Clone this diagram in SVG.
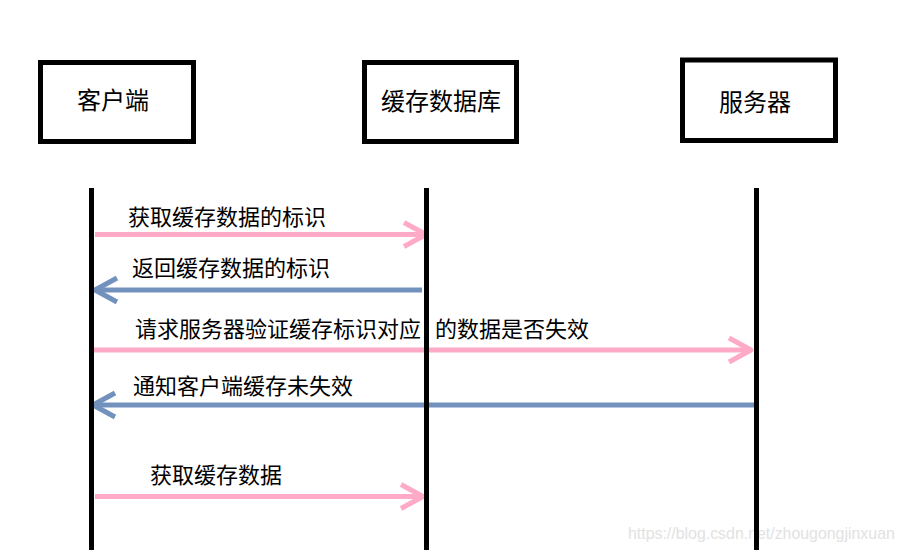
<svg xmlns="http://www.w3.org/2000/svg" width="903" height="550" viewBox="0 0 903 550">
<style>
.box{fill:#fff;stroke:#000;stroke-width:5}
.bt{font-family:"Noto Sans CJK SC","Noto Sans",sans-serif;font-size:24px;fill:#000}
.lt{font-family:"Noto Sans CJK SC","Noto Sans",sans-serif;font-size:22px;fill:#000}
.life{stroke:#000;stroke-width:5}
.pink{stroke:#ffabc8;stroke-width:5;fill:none}
.blue{stroke:#7292bd;stroke-width:5;fill:none}
.wm{font-family:"Liberation Sans",Arial,sans-serif;font-size:15.9px;fill:#e2e2e2}
</style>
<defs>
<marker id="ap" viewBox="-28 -16 32 32" markerWidth="32" markerHeight="32" refX="0" refY="0" orient="auto" markerUnits="userSpaceOnUse">
<path d="M-22,-12 L0,0 L-22,12" fill="none" stroke="#ffabc8" stroke-width="5" stroke-linejoin="round"/>
</marker>
<marker id="ab" viewBox="-28 -16 32 32" markerWidth="32" markerHeight="32" refX="0" refY="0" orient="auto" markerUnits="userSpaceOnUse">
<path d="M-22,-12 L0,0 L-22,12" fill="none" stroke="#7292bd" stroke-width="5" stroke-linejoin="round"/>
</marker>
</defs>
<rect width="903" height="550" fill="#fff"/>
<g id="client">
<rect class="box" x="40.5" y="62.5" width="153" height="79"/>
<text class="bt" x="77" y="109">客户端</text>
</g>
<g id="cache">
<rect class="box" x="364.5" y="62.5" width="152" height="79"/>
<text class="bt" x="381" y="109.5">缓存数据库</text>
</g>
<g id="server">
<rect class="box" x="682.5" y="60" width="153" height="80.5"/>
<text class="bt" x="719" y="110.5">服务器</text>
</g>
<text class="wm" x="628" y="538.5">https://blog.csdn.net/zhougongjinxuan</text>
<g id="connectors">
<line class="pink" x1="95" y1="234.5" x2="426" y2="234.5" marker-end="url(#ap)"/>
<line class="blue" x1="422" y1="290" x2="95" y2="290" marker-end="url(#ab)"/>
<line class="pink" x1="93" y1="350" x2="751" y2="350" marker-end="url(#ap)"/>
<line class="blue" x1="756" y1="405" x2="93" y2="405" marker-end="url(#ab)"/>
<line class="pink" x1="95" y1="496.5" x2="423" y2="496.5" marker-end="url(#ap)"/>
</g>
<g id="lifelines">
<line class="life" x1="91.5" y1="188" x2="91.5" y2="550"/>
<line class="life" x1="426.5" y1="188" x2="426.5" y2="550"/>
<line class="life" x1="756.5" y1="188" x2="756.5" y2="550"/>
</g>
<g id="labels">
<text class="lt" x="128" y="225">获取缓存数据的标识</text>
<text class="lt" x="132" y="276">返回缓存数据的标识</text>
<text class="lt" x="135" y="337">请求服务器验证缓存标识对应</text>
<text class="lt" x="435" y="337">的数据是否失效</text>
<text class="lt" x="133" y="394">通知客户端缓存未失效</text>
<text class="lt" x="150" y="483">获取缓存数据</text>
</g>
</svg>
